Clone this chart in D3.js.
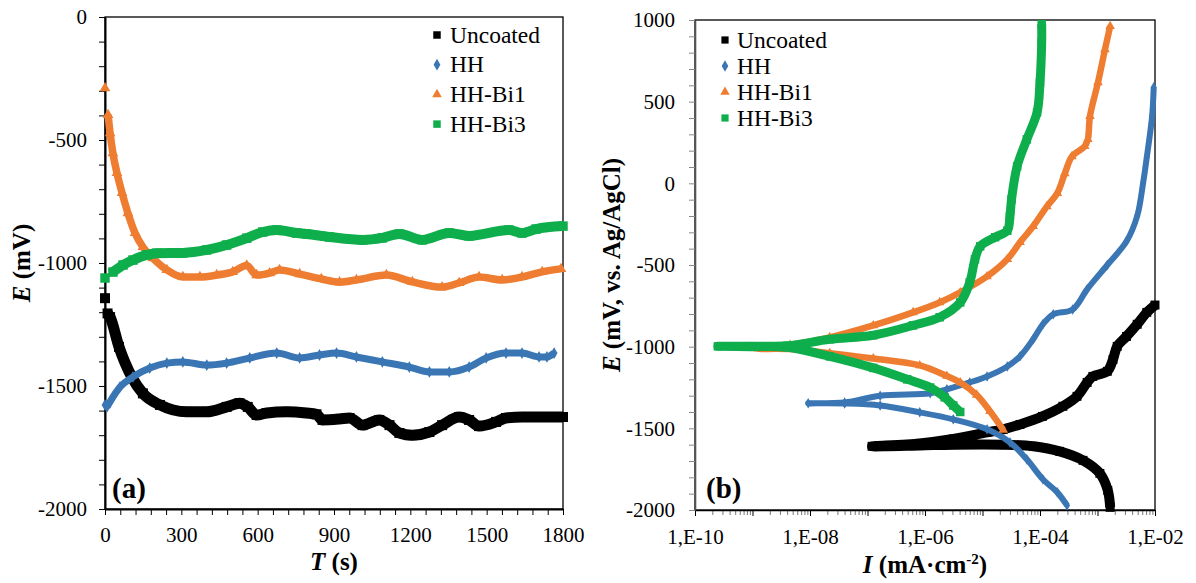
<!DOCTYPE html>
<html>
<head>
<meta charset="utf-8">
<script src="https://cdn.jsdelivr.net/npm/d3@7"></script>
<style>
  body { margin: 0; background: #fff; }
</style>
</head>
<body>
<div id="chart"></div>
<script>
// ---- DATA ----
const seriesNames = ["Uncoated", "HH", "HH-Bi1", "HH-Bi3"];

// (a) potential vs time
const uncoatedT = [0, 10, 20, 55, 105, 149, 216, 321, 400, 478, 529, 561, 596, 635, 714, 792, 831, 855, 922, 961, 1012, 1078, 1118, 1157, 1208, 1275, 1325, 1392, 1431, 1470, 1537, 1576, 1639, 1718, 1800];
const uncoatedE = [-1143, -1205, -1220, -1341, -1463, -1530, -1577, -1605, -1605, -1585, -1570, -1585, -1618, -1610, -1605, -1610, -1615, -1638, -1634, -1630, -1659, -1638, -1659, -1691, -1700, -1687, -1659, -1626, -1638, -1663, -1646, -1630, -1626, -1626, -1626];
const hhT = [0, 8, 31, 59, 110, 176, 243, 306, 400, 478, 569, 675, 765, 843, 910, 988, 1090, 1196, 1275, 1353, 1431, 1498, 1576, 1639, 1706, 1737, 1765];
const hhE = [-1577, -1585, -1545, -1504, -1463, -1427, -1407, -1402, -1415, -1407, -1386, -1366, -1386, -1374, -1366, -1382, -1402, -1423, -1443, -1443, -1423, -1386, -1366, -1366, -1382, -1382, -1366];
const bi1T = [0, 12, 20, 31, 47, 67, 90, 118, 149, 188, 243, 306, 373, 439, 502, 557, 596, 647, 686, 765, 850, 922, 988, 1106, 1208, 1325, 1392, 1470, 1561, 1639, 1718, 1792];
const bi1E = [-289, -398, -472, -553, -634, -715, -797, -878, -935, -980, -1028, -1057, -1057, -1049, -1036, -1010, -1049, -1041, -1028, -1045, -1065, -1078, -1069, -1049, -1077, -1098, -1081, -1057, -1069, -1057, -1036, -1024];
const bi3T = [0, 31, 71, 110, 165, 204, 306, 400, 478, 557, 620, 675, 753, 792, 882, 1012, 1090, 1157, 1247, 1353, 1431, 1588, 1639, 1694, 1800];
const bi3E = [-1061, -1037, -1008, -988, -967, -960, -959, -947, -927, -899, -874, -866, -878, -882, -894, -906, -898, -882, -906, -878, -890, -866, -878, -862, -850];

// (b) polarization curves: current density (mA/cm2) and potential (mV)
const uncoatedI = [1.66e-3, 1.51e-3, 1.10e-3, 5.6e-4, 2.2e-4, 7.6e-5, 2.3e-5, 3.1e-6, 8.1e-7, 1.2e-7, 8.1e-7, 3.1e-6, 1.2e-5, 2.3e-5, 4.5e-5, 1.1e-4, 2.5e-4, 4.4e-4, 6.6e-4, 8.3e-4, 1.48e-3, 1.86e-3, 2.2e-3, 3.2e-3, 4.9e-3, 7.2e-3, 1.0e-2];
const uncoatedPE = [-1984, -1880, -1776, -1696, -1641, -1610, -1600, -1600, -1605, -1610, -1592, -1565, -1525, -1506, -1476, -1427, -1365, -1304, -1219, -1182, -1151, -1078, -998, -937, -863, -790, -745];
const hhI = [2.95e-4, 2.0e-4, 1.12e-4, 5.9e-5, 3.0e-5, 1.2e-5, 3.1e-6, 8.1e-7, 1.66e-7, 4.0e-8, 9.3e-9, 4.0e-8, 1.66e-7, 1.23e-6, 2.4e-6, 6.0e-6, 1.2e-5, 2.7e-5, 4.5e-5, 7.6e-5, 1.12e-4, 1.7e-4, 3.7e-4, 6.6e-4, 1.48e-3, 3.2e-3, 4.9e-3, 6.2e-3, 7.2e-3, 8.9e-3, 9.5e-3];
const hhPE = [-1972, -1892, -1812, -1690, -1586, -1506, -1445, -1402, -1360, -1348, -1347, -1342, -1300, -1285, -1261, -1219, -1182, -1121, -1059, -955, -863, -802, -772, -649, -500, -355, -200, 0, 160, 411, 588];
const bi1I = [2.3e-5, 1.35e-5, 7.9e-6, 4.1e-6, 2.4e-6, 8.1e-7, 1.26e-7, 2.2e-8, 4.5e-9, 1.26e-9, 4.5e-9, 2.2e-8, 1.26e-7, 6.2e-7, 1.8e-6, 4.1e-6, 1.2e-5, 2.7e-5, 4.5e-5, 7.6e-5, 1.32e-4, 2.0e-4, 2.7e-4, 3.6e-4, 6.0e-4, 6.8e-4, 7.4e-4, 1.02e-3, 1.35e-3, 1.66e-3];
const bi1PE = [-1510, -1395, -1295, -1219, -1180, -1115, -1072, -1040, -1015, -1012, -990, -943, -870, -790, -729, -668, -570, -465, -361, -263, -141, -60, 60, 165, 227, 270, 411, 618, 820, 962];
const bi3I = [4.1e-6, 3.1e-6, 2.2e-6, 1.23e-6, 4.9e-7, 1.26e-7, 2.2e-8, 4.0e-9, 9.1e-10, 2.5e-10, 9.1e-10, 4.0e-9, 2.2e-8, 1.26e-7, 6.2e-7, 1.8e-6, 4.1e-6, 6.0e-6, 7.4e-6, 9.1e-6, 1.66e-5, 2.7e-5, 3.0e-5, 3.2e-5, 4.0e-5, 5.9e-5, 8.9e-5, 1.0e-4, 1.07e-4, 1.07e-4];
const bi3PE = [-1400, -1360, -1310, -1250, -1200, -1130, -1059, -1003, -1000, -998, -997, -995, -955, -930, -870, -820, -729, -606, -465, -386, -330, -290, -200, -98, 104, 269, 435, 618, 864, 974];

// ticks
const timeTicks = [0, 300, 600, 900, 1200, 1500, 1800];
const ocpTicks = [0, -500, -1000, -1500, -2000];
const polTicks = [1000, 500, 0, -500, -1000, -1500, -2000];
const currentTicks = [1e-10, 1e-8, 1e-6, 1e-4, 1e-2];

// ---- STYLES ----
const styles = {
  "Uncoated": { color: "#000000", symbol: d3.symbolSquare, size: 100, bandA: 11, bandB: 10 },
  "HH":       { color: "#3a76b4", symbol: d3.symbolDiamond, size: 40, bandA: 7, bandB: 6 },
  "HH-Bi1":   { color: "#ee7d31", symbol: d3.symbolTriangle, size: 50, bandA: 7.5, bandB: 6.5 },
  "HH-Bi3":   { color: "#0fae4c", symbol: d3.symbolSquare, size: 90, bandA: 10, bandB: 9 }
};

const svg = d3.select("#chart").append("svg")
  .attr("width", 1196).attr("height", 583)
  .style("background", "#fff");

// ---- PANEL (a) ----
const xA = d3.scaleLinear().domain([0, 1800]).range([105, 563]);
const yA = d3.scaleLinear().domain([-2000, 0]).range([509, 17]);

const gA = svg.append("g");

gA.append("rect")
  .attr("x", xA(0)).attr("y", yA(0))
  .attr("width", xA(1800) - xA(0)).attr("height", yA(-2000) - yA(0))
  .attr("fill", "none").attr("stroke", "#000").attr("stroke-width", 1.3);

gA.append("g")
  .attr("transform", `translate(0,${yA(-2000)})`)
  .call(d3.axisBottom(xA).tickValues(d3.range(0, 1801, 60)).tickSize(6).tickSizeOuter(0)
    .tickPadding(12).tickFormat(d => timeTicks.includes(d) ? String(d) : ""))
  .call(g => g.select(".domain").attr("stroke-width", 2))
  .selectAll("text").style("font-size", "21px");

gA.append("g")
  .attr("transform", `translate(${xA(0)},0)`)
  .call(d3.axisLeft(yA).tickValues(d3.range(-2000, 1, 100)).tickSize(6).tickSizeOuter(0)
    .tickPadding(12).tickFormat(d => ocpTicks.includes(d) ? String(d) : ""))
  .call(g => g.select(".domain").attr("stroke-width", 2))
  .selectAll("text").style("font-size", "21px");

const dataA = [
  { name: "Uncoated", t: uncoatedT, e: uncoatedE },
  { name: "HH", t: hhT, e: hhE },
  { name: "HH-Bi1", t: bi1T, e: bi1E },
  { name: "HH-Bi3", t: bi3T, e: bi3E }
];

const lineA = d3.line().x(d => xA(d[0])).y(d => yA(d[1])).curve(d3.curveMonotoneX);

dataA.forEach(s => {
  const st = styles[s.name];
  const pts = s.t.map((t, i) => [t, s.e[i]]);
  gA.append("path")
    .datum(pts.slice(1))
    .attr("d", lineA)
    .attr("fill", "none")
    .attr("stroke", st.color)
    .attr("stroke-width", st.bandA)
    .attr("stroke-linejoin", "round");
  gA.selectAll(null).data(pts).enter().append("path")
    .attr("transform", d => `translate(${xA(d[0])},${yA(d[1])})`)
    .attr("d", d3.symbol().type(st.symbol).size(st.size))
    .attr("fill", st.color);
});

// legend (a)
const legA = gA.selectAll(".legA").data(seriesNames).enter().append("g")
  .attr("transform", (d, i) => `translate(437,${35 + i * 29.7})`);
legA.append("path")
  .attr("d", d => d3.symbol().type(styles[d].symbol).size(styles[d].symbol === d3.symbolSquare ? 56 : 40)())
  .attr("fill", d => styles[d].color);
legA.append("text").attr("x", 13).attr("y", 7.5).style("font-size", "23.5px").text(d => d);

gA.append("text").attr("x", 112).attr("y", 498)
  .style("font-size", "29px").style("font-weight", "bold").text("(a)");

gA.append("text")
  .attr("transform", `translate(30,${(yA(0) + yA(-2000)) / 2}) rotate(-90)`)
  .attr("text-anchor", "middle").style("font-size", "25px").style("font-weight", "bold")
  .call(t => {
    t.append("tspan").style("font-style", "italic").text("E");
    t.append("tspan").text(" (mV)");
  });

gA.append("text")
  .attr("x", (xA(0) + xA(1800)) / 2).attr("y", 570)
  .attr("text-anchor", "middle").style("font-size", "25px").style("font-weight", "bold")
  .call(t => {
    t.append("tspan").style("font-style", "italic").text("T");
    t.append("tspan").text(" (s)");
  });

// ---- PANEL (b) ----
const xB = d3.scaleLog().domain([1e-10, 1e-2]).range([695, 1155]);
const yB = d3.scaleLinear().domain([-2000, 1000]).range([510, 20]);

const gB = svg.append("g");

gB.append("rect")
  .attr("x", xB(1e-10)).attr("y", yB(1000))
  .attr("width", xB(1e-2) - xB(1e-10)).attr("height", yB(-2000) - yB(1000))
  .attr("fill", "none").attr("stroke", "#000").attr("stroke-width", 1.3);

const decades = d3.range(-10, -1).map(e => Math.pow(10, e));
const minorI = [];
decades.slice(0, -1).forEach(dec => d3.range(2, 10).forEach(k => minorI.push(dec * k)));

const fmtI = d => {
  const e = Math.round(Math.log10(d));
  return "1,E-" + String(-e).padStart(2, "0");
};

gB.append("g")
  .attr("transform", `translate(0,${yB(-2000)})`)
  .call(d3.axisBottom(xB).tickValues(minorI).tickSize(5).tickSizeOuter(0).tickFormat(""))
  .call(g => g.select(".domain").remove())
  .selectAll("line").attr("stroke", "#777");

gB.append("g")
  .attr("transform", `translate(0,${yB(-2000)})`)
  .call(d3.axisBottom(xB).tickValues(decades).tickSize(6).tickSizeOuter(0).tickPadding(13)
    .tickFormat(d => currentTicks.some(c => Math.abs(c - d) / c < 1e-6) ? fmtI(d) : ""))
  .call(g => g.select(".domain").attr("stroke-width", 1.6))
  .selectAll("text").style("font-size", "21px");

gB.append("g")
  .attr("transform", `translate(${xB(1e-10)},0)`)
  .call(d3.axisLeft(yB).tickValues(d3.range(-2000, 1001, 100)).tickSize(6).tickSizeOuter(0)
    .tickPadding(14).tickFormat(d => polTicks.includes(d) ? String(d) : ""))
  .call(g => g.select(".domain").attr("stroke", "#555").attr("stroke-width", 1.6))
  .call(g => g.selectAll("line").attr("stroke", "#888"))
  .selectAll("text").style("font-size", "21px");

const dataB = [
  { name: "Uncoated", i: uncoatedI, e: uncoatedPE },
  { name: "HH", i: hhI, e: hhPE },
  { name: "HH-Bi1", i: bi1I, e: bi1PE },
  { name: "HH-Bi3", i: bi3I, e: bi3PE }
];

const lineB = d3.line().x(d => xB(d[0])).y(d => yB(d[1])).curve(d3.curveCatmullRom.alpha(0.5));

dataB.forEach(s => {
  const st = styles[s.name];
  const pts = s.i.map((v, k) => [v, s.e[k]]);
  gB.append("path")
    .datum(pts)
    .attr("d", lineB)
    .attr("fill", "none")
    .attr("stroke", st.color)
    .attr("stroke-width", st.bandB)
    .attr("stroke-linejoin", "round");
  gB.selectAll(null).data(pts).enter().append("path")
    .attr("transform", d => `translate(${xB(d[0])},${yB(d[1])})`)
    .attr("d", d3.symbol().type(st.symbol).size(st.size * 0.8))
    .attr("fill", st.color);
});

// legend (b)
const legB = gB.selectAll(".legB").data(seriesNames).enter().append("g")
  .attr("transform", (d, i) => `translate(725,${40 + i * 26})`);
legB.append("path")
  .attr("d", d => d3.symbol().type(styles[d].symbol).size(styles[d].symbol === d3.symbolSquare ? 52 : 38)())
  .attr("fill", d => styles[d].color);
legB.append("text").attr("x", 12).attr("y", 7.5).style("font-size", "23.5px").text(d => d);

gB.append("text").attr("x", 706).attr("y", 498)
  .style("font-size", "29px").style("font-weight", "bold").text("(b)");

gB.append("text")
  .attr("transform", `translate(620,${(yB(1000) + yB(-2000)) / 2}) rotate(-90)`)
  .attr("text-anchor", "middle").style("font-size", "25px").style("font-weight", "bold")
  .call(t => {
    t.append("tspan").style("font-style", "italic").text("E");
    t.append("tspan").text(" (mV, vs. Ag/AgCl)");
  });

gB.append("text")
  .attr("x", (xB(1e-10) + xB(1e-2)) / 2).attr("y", 573)
  .attr("text-anchor", "middle").style("font-size", "25px").style("font-weight", "bold")
  .call(t => {
    t.append("tspan").style("font-style", "italic").text("I");
    t.append("tspan").text(" (mA·cm");
    t.append("tspan").attr("dy", -9).style("font-size", "15px").text("-2");
    t.append("tspan").attr("dy", 9).text(")");
  });

// serif for every label
svg.selectAll("text").style("font-family", "Liberation Serif").attr("fill", "#000");
</script>
</body>
</html>
